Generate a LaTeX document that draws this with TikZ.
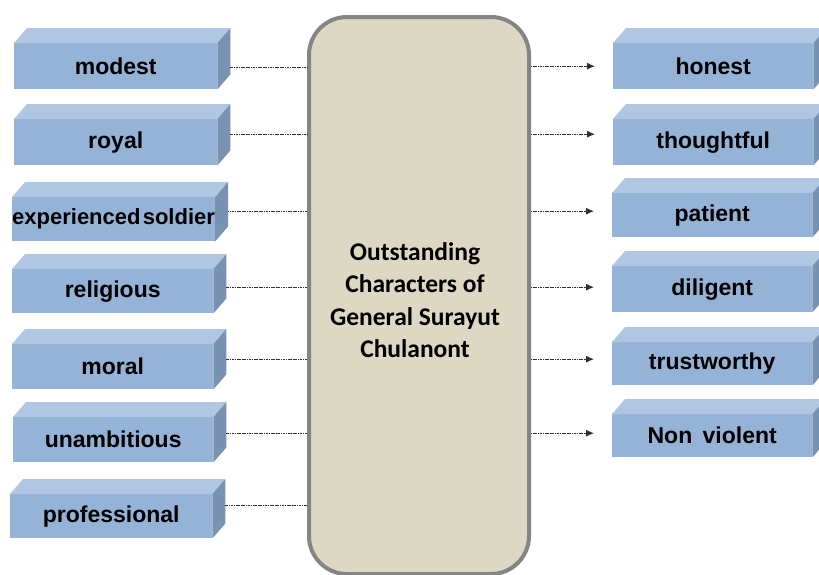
\documentclass[tikz,border=0pt]{standalone}
\usepackage{fontspec}
\setmainfont{Liberation Sans}
\newfontfamily\calfont{Carlito}
\usetikzlibrary{arrows.meta}
\definecolor{frontc}{HTML}{95B3D7}
\definecolor{topc}{HTML}{AFC7E3}
\definecolor{sidec}{HTML}{7892B1}
\definecolor{centc}{HTML}{DDD8C4}
\definecolor{centb}{HTML}{858585}
\definecolor{linec}{HTML}{303030}
\tikzset{
  face/.style={fill=frontc, draw=none, inner sep=0pt, minimum width=#1, font=\bfseries\fontsize{23}{26}\selectfont, text=black},
  face/.default=202pt,
  conn/.style={linec, line width=1pt, dash pattern=on 1.2pt off 0.5pt},
  arr/.style={conn, -{Latex[length=8pt,width=7pt]}},
}
\newcommand\prism[6]{%
  \node[face=#6, minimum height=#4, anchor=north west] (#1) at (#2,#3) {#5};
  \fill[topc] (#1.north west) -- ++(13,-15) -- ([shift={(13,-15)}]#1.north east) -- (#1.north east) -- cycle;
  \fill[sidec] (#1.north east) -- ++(13,-15) -- ([shift={(13,-15)}]#1.south east) -- (#1.south east) -- cycle;
}
\begin{document}
\begin{tikzpicture}[x=1pt,y=-1pt]
\useasboundingbox (0,0) rectangle (819,574);
\fill[white] (0,0) rectangle (819,574);
% centre
\node[draw=centb, fill=centc, line width=4pt, rounded corners=38pt, minimum width=220pt, minimum height=557pt, anchor=north west] (c) at (307,15) {};
\node[font=\calfont\bfseries\fontsize{25.5}{32.5}\selectfont, align=center, text=black] (ct) at (415,300) {Outstanding\\Characters of\\General Surayut\\Chulanont};
% left boxes
\prism{l1}{14}{43}{46pt}{modest}{203pt}
\prism{l2}{14}{119}{46pt}{royal}{203pt}
\prism{l3}{12}{197}{44pt}{\fontsize{22}{24}\selectfont experienced\hspace{0.1em}soldier}{201pt}
\prism{l4}{12}{269}{44pt}{religious}{201pt}
\prism{l5}{12}{344}{45pt}{moral}{201pt}
\prism{l6}{13}{417}{45pt}{unambitious}{200pt}
\prism{l7}{10}{494}{44pt}{professional}{202pt}
% right boxes
\prism{r1}{613}{43}{46pt}{honest}{200pt}
\prism{r2}{613}{119}{46pt}{thoughtful}{200pt}
\prism{r3}{612}{193}{44pt}{patient}{200pt}
\prism{r4}{612}{266}{46pt}{diligent}{200pt}
\prism{r5}{612}{342}{43pt}{trustworthy}{200pt}
\prism{r6}{612}{414}{43pt}{Non\hspace{0.45em}violent}{200pt}
% connectors
\foreach \n/\d in {l1/-1,l2/8,l3/8,l4/4,l5/7,l6/6.5,l7/11}{
  \draw[conn] ([xshift=13pt,yshift=\d pt]\n.east) -- ([yshift=\d pt]\n.east -| c.west);
}
\foreach \n/\d in {r1/0,r2/8,r3/4,r4/2,r5/4.5,r6/2.5}{
  \draw[arr] ([yshift=\d pt]\n.west -| c.east) -- ([xshift=-18pt,yshift=\d pt]\n.west);
}
\end{tikzpicture}
\end{document}
